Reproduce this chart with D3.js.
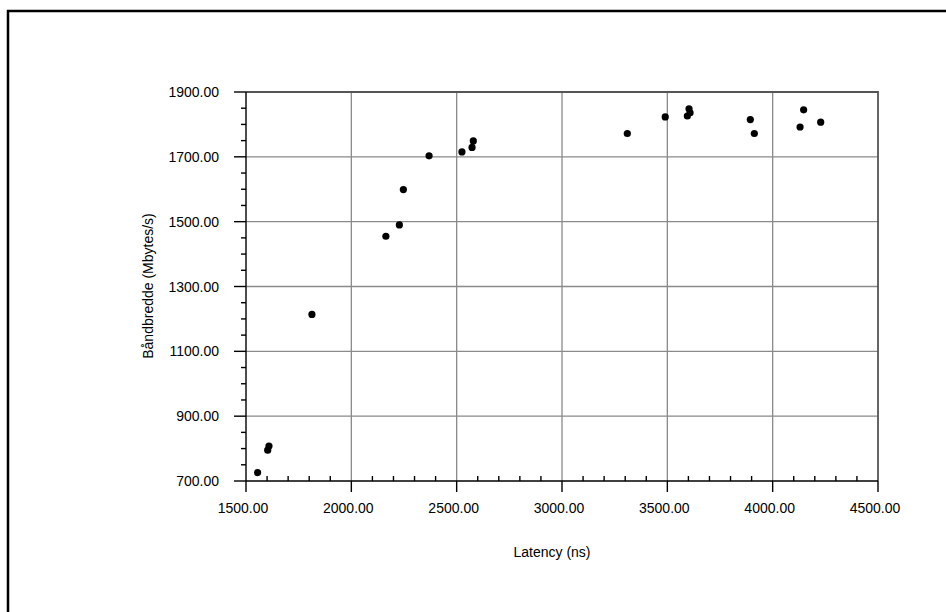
<!DOCTYPE html>
<html><head><meta charset="utf-8">
<script src="https://cdn.jsdelivr.net/npm/d3@7"></script>
<style>body{margin:0;background:#fff}svg{display:block}text{font-family:"Liberation Sans",Arial,sans-serif}</style>
</head><body>
<svg id="c" width="946" height="612"></svg>
<script>
const latency = [1555,1603,1609,1813,2164,2228,2247,2369,2525,2573,2579,3310,3490,3595,3603,3608,3894,3913,4147,4130,4228];
const bandwidth = [726,795,808,1214,1455,1490,1599,1703,1715,1729,1749,1772,1823,1826,1848,1836,1815,1772,1845,1792,1807];
const xTicks = [1500,2000,2500,3000,3500,4000,4500];
const yTicks = [700,900,1100,1300,1500,1700,1900];
const xTitle = "Latency (ns)";
const yTitle = "Båndbredde (Mbytes/s)";

const svg = d3.select("#c");
const L=246,R=878,T=92,B=481;
const x = d3.scaleLinear().domain([1500,4500]).range([L,R]);
const y = d3.scaleLinear().domain([700,1900]).range([B,T]);

// outer border
svg.append("rect").attr("x",8).attr("y",11).attr("width",1000).attr("height",700)
  .attr("fill","none").attr("stroke","#000").attr("stroke-width",2.5);

// gridlines
const g = svg.append("g");
g.selectAll(".gx").data(xTicks.slice(1,-1)).join("line")
  .attr("x1",d=>x(d)).attr("x2",d=>x(d)).attr("y1",T).attr("y2",B)
  .attr("stroke","#8a8a8a").attr("stroke-width",1.3);
g.selectAll(".gy").data(yTicks.slice(1,-1)).join("line")
  .attr("y1",d=>y(d)).attr("y2",d=>y(d)).attr("x1",L).attr("x2",R)
  .attr("stroke","#8a8a8a").attr("stroke-width",1.3);
// top/right frame
svg.append("path").attr("d",`M${L},${T}H${R}V${B}`).attr("fill","none")
  .attr("stroke","#555").attr("stroke-width",1.8);

// axes
const xMinor = d3.range(1500,4501,100).filter(v=>v%500!==0);
const yMinor = d3.range(700,1901,50).filter(v=>(v-700)%200!==0);
const ax = svg.append("g").attr("stroke","#000").attr("stroke-width",1.4);
ax.append("line").attr("x1",L).attr("x2",R).attr("y1",B).attr("y2",B);
ax.append("line").attr("x1",L).attr("x2",L).attr("y1",T).attr("y2",B);
ax.selectAll(".xm").data(xTicks).join("line")
  .attr("x1",d=>x(d)).attr("x2",d=>x(d)).attr("y1",B).attr("y2",B+11);
ax.selectAll(".xn").data(xMinor).join("line")
  .attr("x1",d=>x(d)).attr("x2",d=>x(d)).attr("y1",B).attr("y2",B-5);
ax.selectAll(".ym").data(yTicks).join("line")
  .attr("y1",d=>y(d)).attr("y2",d=>y(d)).attr("x1",L).attr("x2",L-12);
ax.selectAll(".yn").data(yMinor).join("line")
  .attr("y1",d=>y(d)).attr("y2",d=>y(d)).attr("x1",L).attr("x2",L-5);

// tick labels
svg.selectAll(".xl").data(xTicks).join("text")
  .attr("x",d=>x(d)-3).attr("y",513).attr("text-anchor","middle")
  .attr("font-size",14).text(d=>d.toFixed(2));
svg.selectAll(".yl").data(yTicks).join("text")
  .attr("x",219).attr("y",d=>y(d)+5).attr("text-anchor","end")
  .attr("font-size",14).text(d=>d.toFixed(2));

// titles
svg.append("text").attr("x",552).attr("y",557).attr("text-anchor","middle")
  .attr("font-size",14).text(xTitle);
svg.append("text").attr("transform",`translate(153,286) rotate(-90)`)
  .attr("text-anchor","middle").attr("font-size",14).text(yTitle);

// points
svg.selectAll(".pt").data(latency.map((v,i)=>[v,bandwidth[i]])).join("circle")
  .attr("cx",d=>x(d[0])).attr("cy",d=>y(d[1])).attr("r",3.6).attr("fill","#000");
</script>
</body></html>
